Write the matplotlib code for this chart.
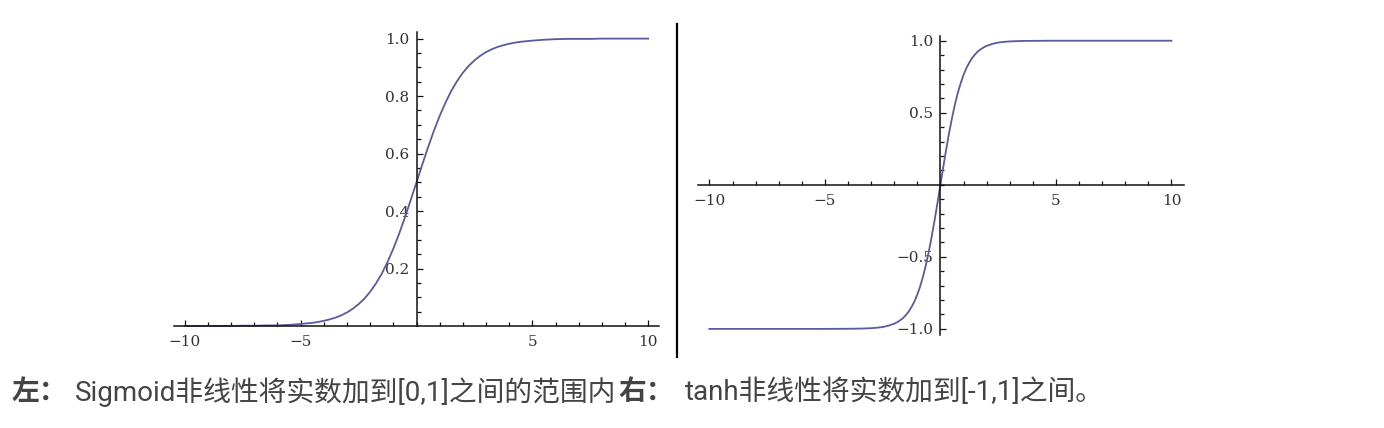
import matplotlib
matplotlib.use('Agg')
import matplotlib.pyplot as plt
import numpy as np
from matplotlib.ticker import FixedLocator

# values
sig_x = [-10, -9, -8, -7.5, -7, -6.5, -6, -5.5, -5, -4.75, -4.5, -4.25, -4, -3.75,
         -3.5, -3.25, -3, -2.75, -2.5, -2.25, -2, -1.75, -1.5, -1.25, -1, -0.75,
         -0.5, -0.25, 0, 0.25, 0.5, 0.75, 1, 1.25, 1.5, 1.75, 2, 2.25, 2.5, 2.75,
         3, 3.25, 3.5, 3.75, 4, 4.25, 4.5, 4.75, 5, 5.5, 6, 6.5, 7, 7.5, 8, 9, 10]
sig_y = [0.000, 0.000, 0.000, 0.001, 0.001, 0.002, 0.002, 0.004, 0.007, 0.009,
         0.011, 0.014, 0.018, 0.023, 0.029, 0.037, 0.047, 0.060, 0.076, 0.095,
         0.119, 0.148, 0.182, 0.223, 0.269, 0.321, 0.378, 0.438, 0.500, 0.562,
         0.622, 0.679, 0.731, 0.777, 0.818, 0.852, 0.881, 0.905, 0.924, 0.940,
         0.953, 0.963, 0.971, 0.977, 0.982, 0.986, 0.989, 0.991, 0.993, 0.996,
         0.998, 0.999, 0.999, 0.999, 1.000, 1.000, 1.000]

tanh_x = [-10, -8, -6, -5, -4, -3.5, -3, -2.75, -2.5, -2.25, -2, -1.875, -1.75,
          -1.625, -1.5, -1.375, -1.25, -1.125, -1, -0.875, -0.75, -0.625, -0.5,
          -0.375, -0.25, -0.125, 0, 0.125, 0.25, 0.375, 0.5, 0.625, 0.75, 0.875,
          1, 1.125, 1.25, 1.375, 1.5, 1.625, 1.75, 1.875, 2, 2.25, 2.5, 2.75, 3,
          3.5, 4, 5, 6, 8, 10]
tanh_y = [-1.000, -1.000, -1.000, -1.000, -0.999, -0.998, -0.995, -0.992, -0.987,
          -0.978, -0.964, -0.954, -0.941, -0.926, -0.905, -0.880, -0.848, -0.810,
          -0.762, -0.704, -0.635, -0.555, -0.462, -0.358, -0.245, -0.124, 0.000,
          0.124, 0.245, 0.358, 0.462, 0.555, 0.635, 0.704, 0.762, 0.810, 0.848,
          0.880, 0.905, 0.926, 0.941, 0.954, 0.964, 0.978, 0.987, 0.992, 0.995,
          0.998, 0.999, 1.000, 1.000, 1.000, 1.000]

sig_xticks = [-10, -5, 5, 10]
sig_yticks = [0.2, 0.4, 0.6, 0.8, 1.0]
tanh_xticks = [-10, -5, 5, 10]
tanh_yticks = [-1.0, -0.5, 0.5, 1.0]

W, H = 1384, 428
fig = plt.figure(figsize=(W / 100, H / 100), dpi=100)

CURVE = '#5a5aa0'
TICKFONT = dict(family='DejaVu Serif', size=11, color='#333333')


def origin_axes(ox, oy, sx, sy, xlim, ylim):
    # place axes so that data (0, 0) lands on pixel (ox, oy)
    left = ox + xlim[0] * sx
    right = ox + xlim[1] * sx
    top = oy - ylim[1] * sy
    bottom = oy - ylim[0] * sy
    ax = fig.add_axes([left / W, 1 - bottom / H, (right - left) / W, (bottom - top) / H])
    ax.set_xlim(*xlim)
    ax.set_ylim(*ylim)
    ax.patch.set_alpha(0)
    for s in ('top', 'right'):
        ax.spines[s].set_visible(False)
    for s in ('left', 'bottom'):
        ax.spines[s].set_position(('data', 0))
        ax.spines[s].set_linewidth(1.1)
        ax.spines[s].set_color('#111111')
    ax.tick_params(which='both', direction='in', color='#111111', width=0.9)
    ax.tick_params(which='major', length=4.5)
    ax.tick_params(which='minor', length=2.8)
    ax.tick_params(axis='x', pad=6.5)
    ax.tick_params(axis='y', pad=5)
    return ax


def set_ticks(ax, xt, yt, xminor, yminor):
    ax.set_xticks(xt)
    ax.set_xticklabels([f'{v:d}'.replace('-', '\u2212') for v in xt], **TICKFONT)
    ax.set_yticks(yt)
    ax.set_yticklabels([f'{v:.1f}'.replace('-', '\u2212') for v in yt], **TICKFONT)
    ax.xaxis.set_minor_locator(FixedLocator(xminor))
    ax.yaxis.set_minor_locator(FixedLocator(yminor))


# left: sigmoid
ax1 = origin_axes(416.5, 326, 23.17, 287.4, (-11, 11), (-0.04, 1.06))
ax1.spines['bottom'].set_bounds(-10.46, 10.45)
ax1.spines['left'].set_bounds(0, 1.023)
set_ticks(ax1, sig_xticks, sig_yticks,
          np.arange(-10, 11, 1), np.round(np.arange(0.05, 1.01, 0.05), 2))
ax1.plot(sig_x, sig_y, color=CURVE, lw=1.3)

# right: tanh
ax2 = origin_axes(940.4, 184.8, 23.1, 144.1, (-11, 11), (-1.1, 1.1))
ax2.spines['bottom'].set_bounds(-10.48, 10.56)
ax2.spines['left'].set_bounds(-1.042, 1.034)
set_ticks(ax2, tanh_xticks, tanh_yticks,
          np.arange(-10, 11, 1), np.round(np.arange(-1.0, 1.01, 0.1), 1))
ax2.plot(tanh_x, tanh_y, color=CURVE, lw=1.3)

# separator between the two plots
fig.add_artist(plt.Line2D([677 / W, 677 / W], [1 - 24 / H, 1 - 357 / H],
                          color='black', lw=1.6))

# caption
cap = dict(size=20, color='#444444', va='center', family=['Roboto', 'Noto Sans CJK SC'])
cy = 1 - 392 / H
fig.text(12 / W, cy, '左：', weight='bold', **cap)
fig.text(75 / W, cy, 'Sigmoid非线性将实数加到[0,1]之间的范围内', **cap)
fig.text(618 / W, cy, '右：', weight='bold', **cap)
fig.text(685 / W, cy, 'tanh非线性将实数加到[-1,1]之间。', **cap)

fig.savefig('out.png', dpi=100)
